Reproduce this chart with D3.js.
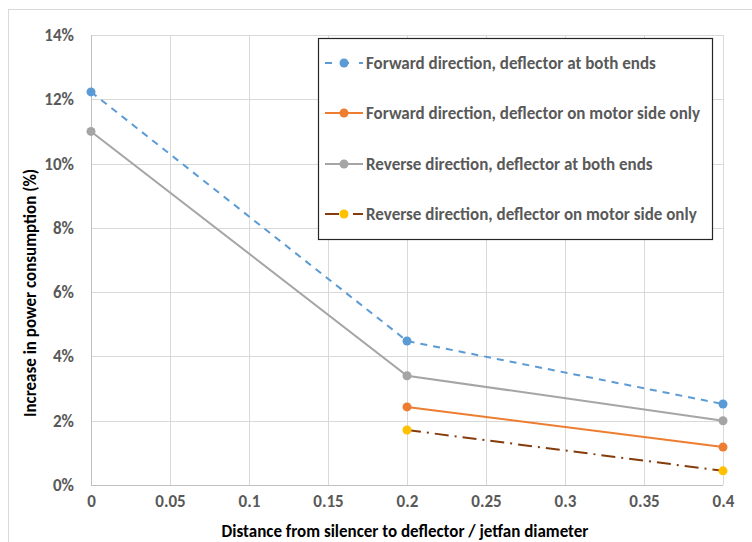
<!DOCTYPE html>
<html><head><meta charset="utf-8">
<script src="https://cdn.jsdelivr.net/npm/d3@7"></script>
<style>body{margin:0;background:#fff}svg{display:block}text{font-family:Carlito,Calibri,"Liberation Sans","Open Sans",sans-serif}</style>
</head><body><svg id="c" width="752" height="542"></svg>
<script>
const xTicks = [0, 0.05, 0.1, 0.15, 0.2, 0.25, 0.3, 0.35, 0.4];
const yTicks = [0, 2, 4, 6, 8, 10, 12, 14];
const fwdBothX = [0, 0.2, 0.4];
const fwdBothY = [12.23, 4.48, 2.52];
const fwdMotorX = [0.2, 0.4];
const fwdMotorY = [2.43, 1.18];
const revBothX = [0, 0.2, 0.4];
const revBothY = [11.0, 3.4, 2.0];
const revMotorX = [0.2, 0.4];
const revMotorY = [1.71, 0.44];
const seriesNames = ["Forward direction, deflector at both ends","Forward direction, deflector on motor side only","Reverse direction, deflector at both ends","Reverse direction, deflector on motor side only"];

const series = [
  {name: seriesNames[0], xs: fwdBothX, ys: fwdBothY, line: "#5b9bd5", marker: "#5b9bd5", dash: "7,6"},
  {name: seriesNames[1], xs: fwdMotorX, ys: fwdMotorY, line: "#ed7d31", marker: "#ed7d31", dash: null},
  {name: seriesNames[2], xs: revBothX, ys: revBothY, line: "#a5a5a5", marker: "#a5a5a5", dash: null},
  {name: seriesNames[3], xs: revMotorX, ys: revMotorY, line: "#843c0c", marker: "#ffc000", dash: "14,6,2,6"}
];

const FS = 17;
const svg = d3.select("#c");
const L = 91, R = 723, T = 35, B = 485;
const x = d3.scaleLinear().domain([0, 0.4]).range([L, R]);
const y = d3.scaleLinear().domain([0, 14]).range([B, T]);

// outer chart border
svg.append("rect").attr("x", 8.5).attr("y", 9.5).attr("width", 760).attr("height", 560)
  .attr("fill", "none").attr("stroke", "#d9d9d9");

// gridlines
svg.append("g").selectAll("line").data(yTicks).join("line")
  .attr("x1", L).attr("x2", R).attr("y1", d => Math.round(y(d)) + 0.5).attr("y2", d => Math.round(y(d)) + 0.5)
  .attr("stroke", "#d9d9d9");
svg.append("g").selectAll("line").data(xTicks).join("line")
  .attr("y1", T).attr("y2", B).attr("x1", d => Math.round(x(d)) + 0.5).attr("x2", d => Math.round(x(d)) + 0.5)
  .attr("stroke", "#d9d9d9");
// axis lines
svg.append("line").attr("x1", L + 0.5).attr("x2", L + 0.5).attr("y1", T).attr("y2", B).attr("stroke", "#bfbfbf");
svg.append("line").attr("x1", L).attr("x2", R).attr("y1", B + 0.5).attr("y2", B + 0.5).attr("stroke", "#bfbfbf");

// axes labels via d3 axes
const yAxis = svg.append("g").attr("transform", `translate(${L},0)`)
  .call(d3.axisLeft(y).tickValues(yTicks).tickFormat(d => d + "%").tickSize(0).tickPadding(17));
const xAxis = svg.append("g").attr("transform", `translate(0,${B})`)
  .call(d3.axisBottom(x).tickValues(xTicks).tickFormat(d => String(d)).tickSize(0).tickPadding(10));
[yAxis, xAxis].forEach(a => {
  a.select(".domain").remove();
  a.selectAll("text").attr("fill", "#595959").attr("font-size", FS).attr("font-weight", "bold")
    .style("font-family", "Carlito,Calibri,'Liberation Sans',sans-serif");
});

// titles
svg.append("text").attr("x", 405).attr("y", 537).attr("text-anchor", "middle")
  .attr("font-size", FS).attr("font-weight", "bold").attr("fill", "#000")
  .text("Distance from silencer to deflector / jetfan diameter");
svg.append("text").attr("transform", "translate(36,293) rotate(-90)").attr("text-anchor", "middle")
  .attr("font-size", FS).attr("font-weight", "bold").attr("fill", "#000")
  .text("Increase in power consumption (%)");

// series
const line = d3.line().x(d => x(d[0])).y(d => y(d[1]));
series.forEach(s => {
  const pts = s.xs.map((v, i) => [v, s.ys[i]]);
  svg.append("path").attr("d", line(pts)).attr("fill", "none").attr("stroke", s.line)
    .attr("stroke-width", 2).attr("stroke-dasharray", s.dash);
  svg.append("g").selectAll("circle").data(pts).join("circle")
    .attr("cx", d => x(d[0])).attr("cy", d => y(d[1])).attr("r", 4.5).attr("fill", s.marker);
});

// legend
const lg = svg.append("g");
lg.append("rect").attr("x", 318.5).attr("y", 38.5).attr("width", 394).attr("height", 201)
  .attr("fill", "#fff").attr("stroke", "#262626").attr("stroke-width", 1.2);
const legY = [63, 113, 164, 214];
series.forEach((s, i) => {
  const yy = legY[i];
  lg.append("line").attr("x1", 325).attr("x2", 363).attr("y1", yy).attr("y2", yy)
    .attr("stroke", s.line).attr("stroke-width", 2).attr("stroke-dasharray", s.dash ? (i === 0 ? "7,10" : "14,6,2,6") : null);
  lg.append("circle").attr("cx", 344).attr("cy", yy).attr("r", 4.5).attr("fill", s.marker);
  lg.append("text").attr("x", 366).attr("y", yy + 5.5).attr("font-size", FS).attr("font-weight", "bold")
    .attr("fill", "#595959").text(s.name);
});
</script></body></html>
